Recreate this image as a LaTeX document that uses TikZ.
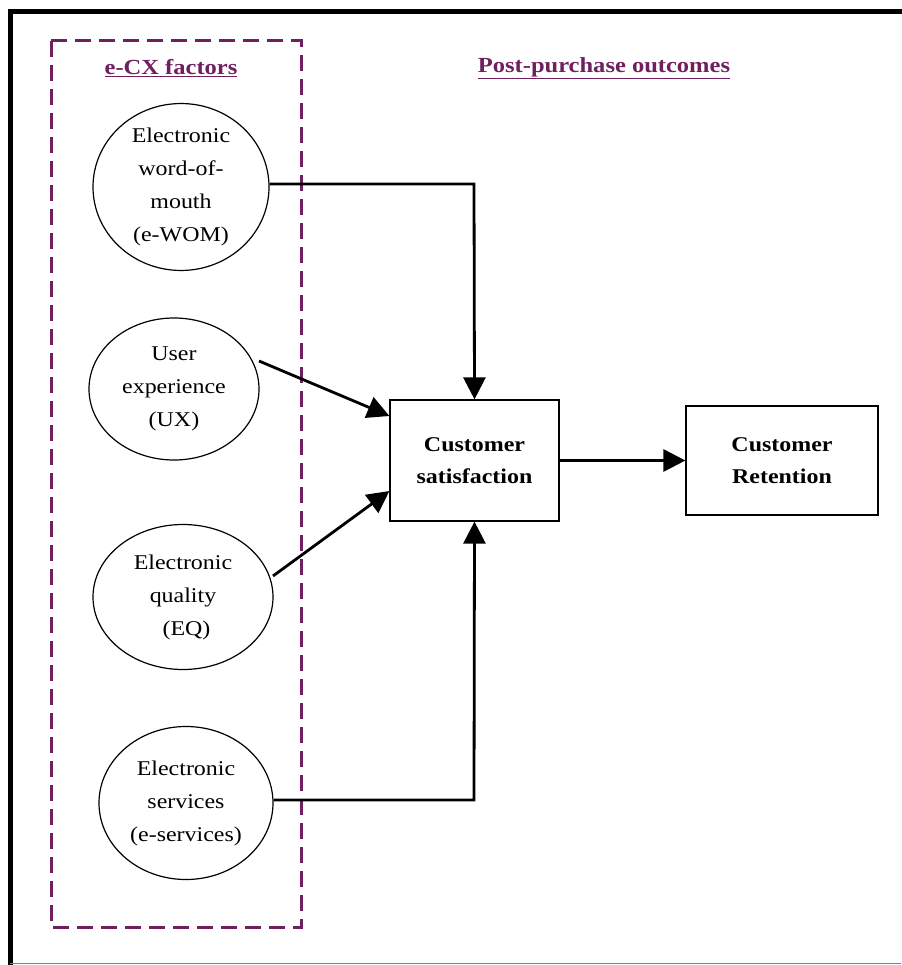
\documentclass[tikz,border=0pt]{standalone}
\usepackage{fontspec}
\setmainfont[FakeStretch=1.14]{Liberation Serif}
\usetikzlibrary{shapes.geometric,arrows.meta}
\definecolor{plum}{RGB}{112,32,96}
\begin{document}
\begin{tikzpicture}[x=1pt,y=-1pt,
  factor/.style={draw, ellipse, line width=1.2pt, inner sep=0pt, align=center,
    font=\fontsize{21}{33}\selectfont},
  outcome/.style={draw, rectangle, line width=1.2pt, inner sep=0pt, align=center,
    font=\fontsize{21}{32}\selectfont\bfseries},
  heading/.style={text=plum, font=\fontsize{21.5}{25}\selectfont\bfseries},
  link/.style={line width=2.8pt, -{Triangle[length=22pt,width=22pt]}}]
\useasboundingbox (0,0) rectangle (901,965);
\fill[white] (0,0) rectangle (901,965);
% outer frame
\draw[line width=5pt] (10,967) -- (10,12) -- (903,12);
\draw[gray, line width=1pt] (10,963.5) -- (901,963.5);
% factor group
\draw[plum, line width=3pt, dash pattern=on 16pt off 8pt] (51,41) rectangle (301,927);
\node[heading] (hfac) at (171,68) {\underline{e-CX factors}};
\node[heading] (hout) at (604,68) {\underline{Post-purchase outcomes}};
% factors
\node[factor, minimum width=176pt, minimum height=158pt] (wom) at (181,187)
  {Electronic\\word-of-\\mouth\\(e-WOM)};
\node[factor, minimum width=170pt, minimum height=142pt] (ux) at (174,389)
  {User\\experience\\(UX)};
\node[factor, minimum width=180pt, minimum height=145pt] (eq) at (183,597)
  {Electronic\\quality\\\,\,(EQ)};
\node[factor, minimum width=174pt, minimum height=153pt] (es) at (186,803)
  {Electronic\\services\\(e-services)};
% outcomes
\node[outcome, minimum width=169pt, minimum height=121pt] (sat) at (474.5,460.5)
  {Customer\\satisfaction};
\node[outcome, minimum width=192pt, minimum height=109pt] (ret) at (782,460.5)
  {Customer\\Retention};
% paths
\coordinate (womturn) at (474,184);
\coordinate (esturn) at (474,800);
\draw[link] (wom.east |- womturn) -- (womturn) -- (sat.north);
\draw[link] (es.east |- esturn) -- (esturn) -- (sat.south);
\draw[link] (259,361) -- (sat.north west |- 0,416);
\draw[link] (273,576) -- (sat.north west |- 0,491);
\draw[link] (sat.east) -- (ret.west);
\end{tikzpicture}
\end{document}
